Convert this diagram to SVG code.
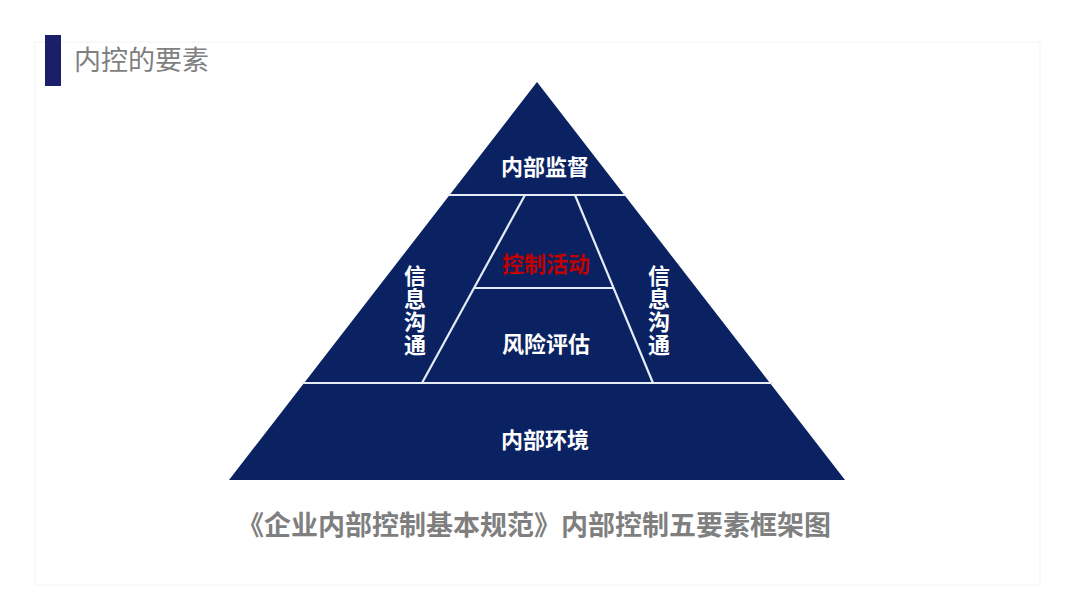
<svg xmlns="http://www.w3.org/2000/svg" width="1080" height="608" viewBox="0 0 1080 608">
<style>
.seg{fill:#0a2262;stroke:none}
.div{stroke:#e6ecf5;stroke-width:2.2;fill:none}
.lbl{font-family:"Noto Sans CJK SC","Liberation Sans",sans-serif;font-weight:bold;font-size:22px;text-anchor:middle;fill:#ffffff}
.vt{font-family:"Noto Sans CJK SC","Liberation Sans",sans-serif;font-weight:bold;font-size:22px;fill:#ffffff;writing-mode:vertical-rl;letter-spacing:1px}
</style>
<rect x="0" y="0" width="1080" height="608" fill="#ffffff"/>
<rect x="35" y="42" width="1005" height="543" fill="none" stroke="#f4f4f4" stroke-width="1"/>
<g id="title">
<rect x="45" y="35" width="16" height="51" fill="#1b1f6b"/>
<text x="74" y="70" font-family="Noto Sans CJK SC,Liberation Sans,sans-serif" font-size="27" fill="#7f7f7f">内控的要素</text>
</g>
<g id="pyramid">
<polygon class="seg" points="537,82 845,480 229,480"/>
</g>
<g id="connectors">
<line class="div" x1="447" y1="195" x2="626" y2="195"/>
<line class="div" x1="302" y1="383" x2="773" y2="383"/>
<line class="div" x1="525" y1="195" x2="422" y2="383"/>
<line class="div" x1="575" y1="195" x2="653" y2="383"/>
<line class="div" x1="475" y1="288" x2="613" y2="288"/>
</g>
<g id="n-supervision"><text class="lbl" x="545" y="175">内部监督</text></g>
<g id="n-control"><text class="lbl" x="546" y="272" style="fill:#c00000">控制活动</text></g>
<g id="n-risk"><text class="lbl" x="546" y="352">风险评估</text></g>
<g id="n-env"><text class="lbl" x="545" y="448">内部环境</text></g>
<g id="n-info-left"><text class="vt" x="415" y="265">信息沟通</text></g>
<g id="n-info-right"><text class="vt" x="659" y="265">信息沟通</text></g>
<g id="caption">
<text x="534" y="535" font-family="Noto Sans CJK SC,Liberation Sans,sans-serif" font-size="27" font-weight="bold" fill="#7f7f7f" text-anchor="middle">《企业内部控制基本规范》内部控制五要素框架图</text>
</g>
</svg>
